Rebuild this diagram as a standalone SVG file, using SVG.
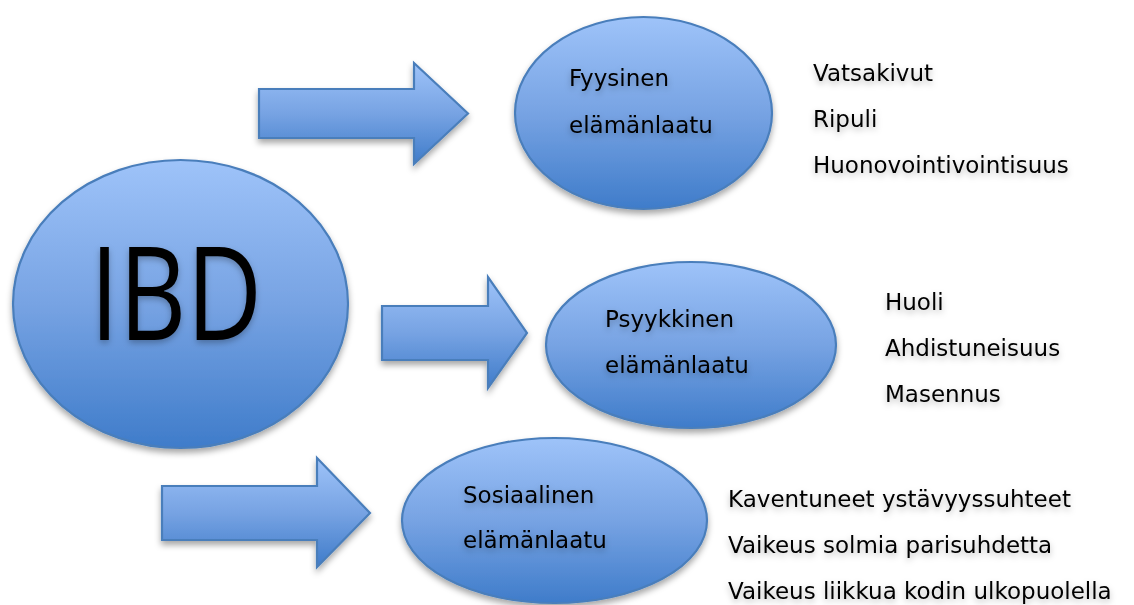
<svg xmlns="http://www.w3.org/2000/svg" width="1134" height="605" viewBox="0 0 1134 605">
<defs>
<linearGradient id="g" x1="0" y1="0" x2="0" y2="1">
<stop offset="0" stop-color="#9EC3F9"/>
<stop offset="0.5" stop-color="#77A3E3"/>
<stop offset="1" stop-color="#3F7CCA"/>
</linearGradient>
<filter id="sh" x="-10%" y="-10%" width="120%" height="130%">
<feDropShadow dx="0" dy="4" stdDeviation="3" flood-color="#000" flood-opacity="0.35"/>
</filter>
<filter id="tsh" x="-10%" y="-30%" width="120%" height="180%">
<feDropShadow dx="0" dy="3" stdDeviation="3" flood-color="#000" flood-opacity="0.28"/>
</filter>
</defs>
<style>
.shape{fill:url(#g);stroke:#4A7EBB;stroke-width:2.2;filter:url(#sh)}
.t{font-family:"DejaVu Sans",Verdana,sans-serif;font-size:23px;fill:#000;filter:url(#tsh)}
.big{font-family:"Open Sans","DejaVu Sans",sans-serif;font-size:130px;fill:#000;filter:url(#tsh)}
</style>
<rect width="1134" height="605" fill="#fff"/>
<g id="connectors">
<polygon class="shape" points="259,89 414,89 414,63 468,113.5 414,164 414,138 259,138"/>
<polygon class="shape" points="382,306 488,306 488,277 527,333 488,388 488,360 382,360"/>
<polygon class="shape" points="162,486 317,486 317,458 370,513 317,567 317,540 162,540"/>
</g>
<g id="ibd">
<ellipse class="shape" cx="180.5" cy="304" rx="167.5" ry="144"/>
<text class="big" x="176" y="340" text-anchor="middle" textLength="172" lengthAdjust="spacingAndGlyphs">IBD</text>
</g>
<g id="fyysinen">
<ellipse class="shape" cx="643.5" cy="113" rx="128.5" ry="96"/>
<text class="t" x="569" y="86">Fyysinen</text>
<text class="t" x="569" y="133">elämänlaatu</text>
</g>
<g id="psyykkinen">
<ellipse class="shape" cx="691" cy="345" rx="145" ry="83"/>
<text class="t" x="605" y="327">Psyykkinen</text>
<text class="t" x="605" y="373">elämänlaatu</text>
</g>
<g id="sosiaalinen">
<ellipse class="shape" cx="554.5" cy="520.5" rx="152.5" ry="82.5"/>
<text class="t" x="463" y="503">Sosiaalinen</text>
<text class="t" x="463" y="548">elämänlaatu</text>
</g>
<g id="fyysinen-list">
<text class="t" x="813" y="81">Vatsakivut</text>
<text class="t" x="813" y="127">Ripuli</text>
<text class="t" x="813" y="173">Huonovointivointisuus</text>
</g>
<g id="psyykkinen-list">
<text class="t" x="885" y="310">Huoli</text>
<text class="t" x="885" y="356">Ahdistuneisuus</text>
<text class="t" x="885" y="402">Masennus</text>
</g>
<g id="sosiaalinen-list">
<text class="t" x="728" y="507">Kaventuneet ystävyyssuhteet</text>
<text class="t" x="728" y="553">Vaikeus solmia parisuhdetta</text>
<text class="t" x="728" y="599">Vaikeus liikkua kodin ulkopuolella</text>
</g>
</svg>
